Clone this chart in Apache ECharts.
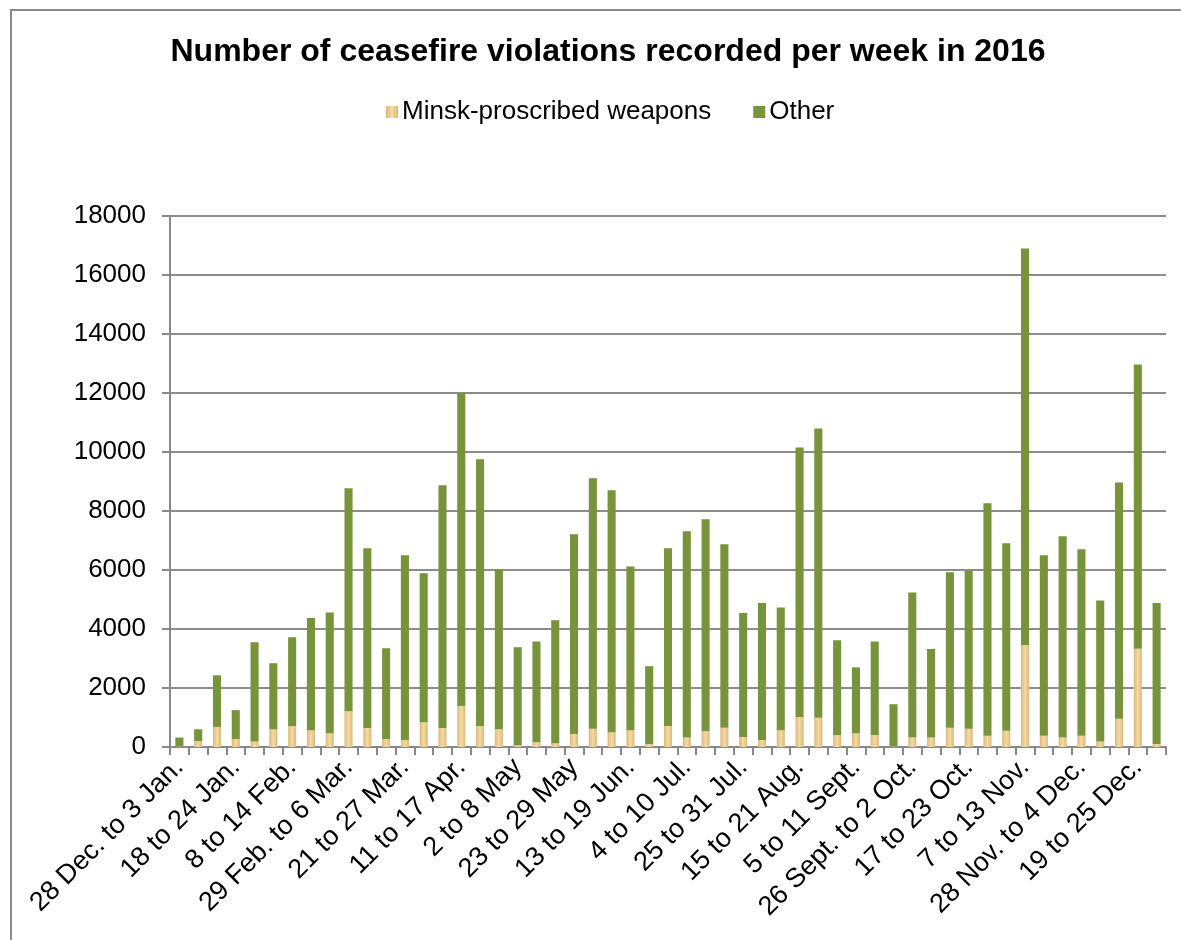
<!DOCTYPE html>
<html>
<head>
<meta charset="utf-8">
<script src="https://cdn.jsdelivr.net/npm/echarts@6/dist/echarts.min.js"></script>
<style>
html,body{margin:0;padding:0;background:#fff;}
#c{width:1181px;height:940px;}
</style>
</head>
<body>
<div id="c"></div>
<script>
var weeks = [
  "28 Dec. to 3 Jan.","4 to 10 Jan.","11 to 17 Jan.","18 to 24 Jan.","25 to 31 Jan.",
  "1 to 7 Feb.","8 to 14 Feb.","15 to 21 Feb.","22 to 28 Feb.","29 Feb. to 6 Mar.",
  "7 to 13 Mar.","14 to 20 Mar.","21 to 27 Mar.","28 Mar. to 3 Apr.","4 to 10 Apr.",
  "11 to 17 Apr.","18 to 24 Apr.","25 Apr. to 1 May","2 to 8 May","9 to 15 May",
  "16 to 22 May","23 to 29 May","30 May to 5 Jun.","6 to 12 Jun.","13 to 19 Jun.",
  "20 to 26 Jun.","27 Jun. to 3 Jul.","4 to 10 Jul.","11 to 17 Jul.","18 to 24 Jul.",
  "25 to 31 Jul.","1 to 7 Aug.","8 to 14 Aug.","15 to 21 Aug.","22 to 28 Aug.",
  "29 Aug. to 4 Sept.","5 to 11 Sept.","12 to 18 Sept.","19 to 25 Sept.","26 Sept. to 2 Oct.",
  "3 to 9 Oct.","10 to 16 Oct.","17 to 23 Oct.","24 to 30 Oct.","31 Oct. to 6 Nov.",
  "7 to 13 Nov.","14 to 20 Nov.","21 to 27 Nov.","28 Nov. to 4 Dec.","5 to 11 Dec.",
  "12 to 18 Dec.","19 to 25 Dec.","26 Dec. to 1 Jan."
];

var minskWeapons = [
  20, 200, 680, 270, 190, 600, 700, 570, 470, 1210,
  640, 270, 240, 840, 640, 1390, 700, 600, 60, 160,
  130, 440, 620, 500, 570, 100, 710, 320, 530, 650,
  340, 240, 570, 1020, 990, 410, 460, 410, 20, 320,
  320, 650, 620, 380, 550, 3460, 380, 320, 380, 190,
  960, 3330, 100
];

var otherWeapons = [
  300, 400, 1750, 980, 3360, 2240, 3020, 3800, 4090, 7560,
  6100, 3080, 6260, 5050, 8230, 10610, 9050, 5430, 3320, 3420,
  4170, 6770, 8490, 8200, 5550, 2640, 6030, 6990, 7190, 6220,
  4200, 4640, 4160, 9130, 9810, 3210, 2240, 3170, 1430, 4920,
  3000, 5270, 5350, 7880, 6360, 13440, 6120, 6820, 6320, 4780,
  8010, 9640, 4780
];

var seriesNames = ["Minsk-proscribed weapons", "Other"];
var chartTitle = "Number of ceasefire violations recorded per week in 2016";

var FONT = "'Liberation Sans', Arial, sans-serif";
var tan = new echarts.graphic.LinearGradient(0, 0, 1, 0, [
  {offset: 0, color: '#DCB877'},
  {offset: 0.5, color: '#F3DAA6'},
  {offset: 1, color: '#DCB877'}
]);
var green = '#77933C';

var chart = echarts.init(document.getElementById('c'), null, {renderer: 'canvas'});
chart.setOption({
  animation: false,
  backgroundColor: '#ffffff',
  title: {
    text: chartTitle,
    left: 603,
    textAlign: 'center',
    top: 31,
    textStyle: {fontFamily: FONT, fontSize: 32, fontWeight: 'bold', color: '#000'}
  },
  legend: {
    left: 381,
    top: 94,
    itemWidth: 12,
    itemHeight: 12,
    itemGap: 42,
    icon: 'rect',
    textStyle: {fontFamily: FONT, fontSize: 26, color: '#000', padding: [0,0,0,-1]},
    data: seriesNames
  },
  graphic: [{
    type: 'rect',
    shape: {x: 11, y: 10, width: 1250, height: 1000},
    style: {fill: 'none', stroke: '#8a8a8a', lineWidth: 2},
    silent: true, z: -10
  }],
  grid: {left: 170, right: 15, top: 216, bottom: 193, containLabel: false},
  xAxis: {
    type: 'category',
    data: weeks,
    boundaryGap: true,
    axisLine: {show: true, lineStyle: {color: '#888', width: 2}},
    axisTick: {show: true, interval: 0, length: 8, lineStyle: {color: '#888', width: 2}},
    axisLabel: {interval: 2, rotate: 45, margin: 16, fontFamily: FONT, fontSize: 27, color: '#000'},
    splitLine: {show: false}
  },
  yAxis: {
    type: 'value',
    min: 0, max: 18000, interval: 2000,
    axisLine: {show: true, lineStyle: {color: '#888', width: 2}},
    axisTick: {show: true, length: 8, lineStyle: {color: '#888', width: 2}},
    axisLabel: {margin: 24, fontFamily: FONT, fontSize: 26, color: '#000',
      formatter: function (v) { return String(v); }},
    splitLine: {show: true, lineStyle: {color: '#8c8c8c', width: 2}}
  },
  series: [{
    name: seriesNames[0],
    type: 'bar',
    stack: 'total',
    barWidth: '43%',
    itemStyle: {color: tan},
    data: minskWeapons
  }, {
    name: seriesNames[1],
    type: 'bar',
    stack: 'total',
    barWidth: '43%',
    itemStyle: {color: green},
    data: otherWeapons
  }]
});
</script>
</body>
</html>
